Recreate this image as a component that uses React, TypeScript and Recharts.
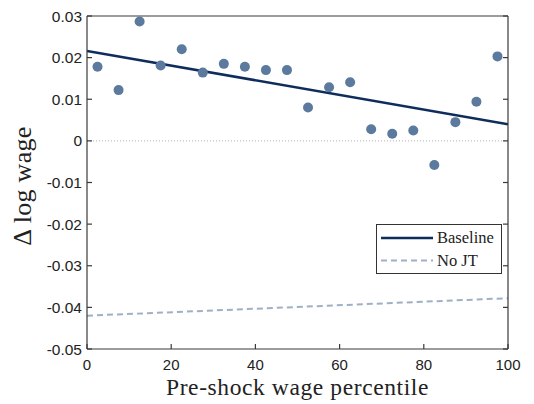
import React from 'react';
import { ComposedChart, XAxis, YAxis, Scatter, Line, ReferenceLine, Legend } from 'recharts';

const percentiles = [2.5, 7.5, 12.5, 17.5, 22.5, 27.5, 32.5, 37.5, 42.5, 47.5, 52.5, 57.5, 62.5, 67.5, 72.5, 77.5, 82.5, 87.5, 92.5, 97.5];
const wageChanges = [0.0178, 0.0122, 0.0287, 0.0181, 0.022, 0.0164, 0.0185, 0.0178, 0.017, 0.017, 0.008, 0.0129, 0.0141, 0.0028, 0.0017, 0.0025, -0.0058, 0.0045, 0.0094, 0.0203];
const fitX = [0, 100];
const baselineFit = [0.0216, 0.004];
const noJTFit = [-0.042, -0.0378];
const xTicks = [0, 20, 40, 60, 80, 100];
const yTicks = [-0.05, -0.04, -0.03, -0.02, -0.01, 0, 0.01, 0.02, 0.03];

const points = percentiles.map((x, i) => ({ x, y: wageChanges[i] }));
const baselineData = fitX.map((x, i) => ({ x, y: baselineFit[i] }));
const noJTData = fitX.map((x, i) => ({ x, y: noJTFit[i] }));

const AXIS = '#3a3a3a';
const SW = 1.2;
const TICK_FONT = '"Liberation Sans", Arial, sans-serif';
const SERIF = '"Liberation Serif", "Times New Roman", serif';
const DOT = '#5b7a9d';
const NAVY = '#0e2d5c';
const LIGHT = '#9fb0c6';
const T = 5;

const fmtY = (v: number) => (Math.abs(v) < 1e-9 ? '0' : v.toFixed(2));

const BottomTick = (p: any) => (
  <g>
    <line x1={p.x} x2={p.x} y1={p.y} y2={p.y - T} stroke={AXIS} strokeWidth={SW} />
    <text x={p.x} y={p.y + 21} textAnchor="middle" fontFamily={TICK_FONT} fontSize={15} fill="#222">
      {p.payload.value}
    </text>
  </g>
);
const TopTick = (p: any) => (
  <line x1={p.x} x2={p.x} y1={p.y} y2={p.y + T} stroke={AXIS} strokeWidth={SW} />
);
const LeftTick = (p: any) => (
  <g>
    <line x1={p.x} x2={p.x + T} y1={p.y} y2={p.y} stroke={AXIS} strokeWidth={SW} />
    <text x={p.x - 5} y={p.y + 5.5} textAnchor="end" fontFamily={TICK_FONT} fontSize={15.5} fill="#222">
      {fmtY(p.payload.value)}
    </text>
  </g>
);
const RightTick = (p: any) => (
  <line x1={p.x} x2={p.x - T} y1={p.y} y2={p.y} stroke={AXIS} strokeWidth={SW} />
);

const XTitle = (p: any) => {
  const vb = p.viewBox;
  return (
    <text x={vb.x + vb.width / 2} y={vb.y + 46} textAnchor="middle" fontFamily={SERIF} fontSize={23.5} letterSpacing={0.6} fill="#222">
      Pre-shock wage percentile
    </text>
  );
};
const YTitle = (p: any) => {
  const vb = p.viewBox;
  const cy = vb.y + vb.height / 2 + 3.5;
  return (
    <text x={31} y={cy} transform={`rotate(-90, 31, ${cy})`} textAnchor="middle" fontFamily={SERIF} fontSize={26} letterSpacing={0.3} fill="#222">
      Δ log wage
    </text>
  );
};

const LegendBox = () => (
  <div style={{ width: 126, height: 50, boxSizing: 'border-box', border: '1px solid #333', background: '#fff' }}>
    <svg width={124} height={48} style={{ display: 'block' }}>
      <line x1={4} x2={56} y1={13} y2={13} stroke={NAVY} strokeWidth={2.5} />
      <text x={60} y={17.5} fontFamily={SERIF} fontSize={16.5} fill="#222">Baseline</text>
      <line x1={4} x2={56} y1={35.5} y2={35.5} stroke={LIGHT} strokeWidth={2} strokeDasharray="6 4" />
      <text x={60} y={40.5} fontFamily={SERIF} fontSize={16.5} fill="#222">No JT</text>
    </svg>
  </div>
);

export default function App() {
  return (
    <div style={{ position: 'absolute', left: 0, top: 0, width: 534, height: 404 }}>
      <ComposedChart width={534} height={404} margin={{ top: 15, right: 25, bottom: 0, left: 0 }}>
        <XAxis
          xAxisId="b"
          dataKey="x"
          type="number"
          domain={[0, 100]}
          ticks={xTicks}
          allowDataOverflow
          height={55}
          tickSize={0}
          tickMargin={0}
          tickLine={false}
          axisLine={{ stroke: AXIS, strokeWidth: SW }}
          tick={<BottomTick />}
          label={{ content: <XTitle /> }}
        />
        <XAxis
          xAxisId="t"
          orientation="top"
          type="number"
          domain={[0, 100]}
          ticks={xTicks}
          allowDataOverflow
          height={1}
          tickSize={0}
          tickMargin={0}
          tickLine={false}
          axisLine={{ stroke: AXIS, strokeWidth: SW }}
          tick={<TopTick />}
        />
        <YAxis
          yAxisId="l"
          dataKey="y"
          type="number"
          domain={[-0.05, 0.03]}
          ticks={yTicks}
          allowDataOverflow
          width={87}
          tickSize={0}
          tickMargin={0}
          tickLine={false}
          axisLine={{ stroke: AXIS, strokeWidth: SW }}
          tick={<LeftTick />}
          label={{ content: <YTitle /> }}
        />
        <YAxis
          yAxisId="r"
          orientation="right"
          type="number"
          domain={[-0.05, 0.03]}
          ticks={yTicks}
          allowDataOverflow
          width={1}
          tickSize={0}
          tickMargin={0}
          tickLine={false}
          axisLine={{ stroke: AXIS, strokeWidth: SW }}
          tick={<RightTick />}
        />
        <ReferenceLine xAxisId="b" yAxisId="l" y={0} stroke="#999" strokeWidth={0.8} strokeDasharray="1 2" />
        <Line
          xAxisId="b"
          yAxisId="l"
          data={noJTData}
          dataKey="y"
          type="linear"
          stroke={LIGHT}
          strokeWidth={2}
          strokeDasharray="6 4"
          dot={false}
          activeDot={false}
          isAnimationActive={false}
        />
        <Line
          xAxisId="b"
          yAxisId="l"
          data={baselineData}
          dataKey="y"
          type="linear"
          stroke={NAVY}
          strokeWidth={2.5}
          dot={false}
          activeDot={false}
          isAnimationActive={false}
        />
        <Scatter
          xAxisId="b"
          yAxisId="l"
          data={points}
          dataKey="y"
          isAnimationActive={false}
          shape={(p: any) => <circle cx={p.cx} cy={p.cy} r={5} fill={DOT} />}
        />
        <Legend
          layout="horizontal"
          verticalAlign="middle"
          align="center"
          content={<LegendBox />}
          wrapperStyle={{ position: 'absolute', left: 376, top: 224, width: 126, height: 50 }}
        />
      </ComposedChart>
    </div>
  );
}
